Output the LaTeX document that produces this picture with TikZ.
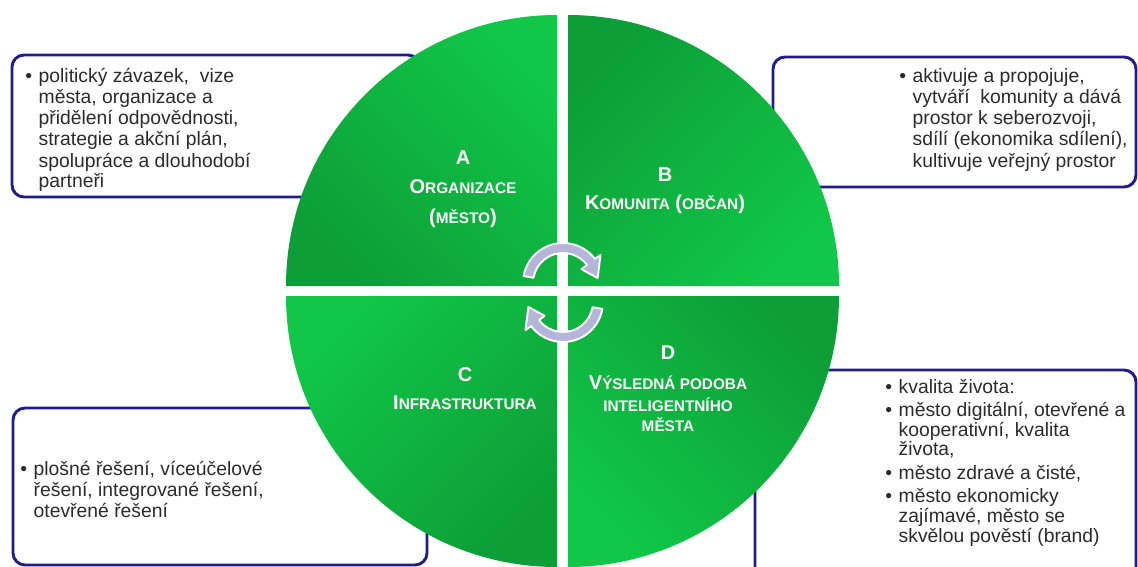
\documentclass[tikz,border=0pt]{standalone}
\usepackage{fontspec}
\setmainfont{Liberation Sans}
\usetikzlibrary{calc}

\definecolor{boxblue}{HTML}{1E1E8C}
\definecolor{textgray}{HTML}{2B2B2B}
\definecolor{greendark}{HTML}{0D9E38}
\definecolor{greenlight}{HTML}{10C747}
\definecolor{arrowlav}{HTML}{B5B5D9}

% first letter large, rest as small capitals
\newcommand{\capsc}[2]{{\fontsize{15}{18}\selectfont #1}{\fontsize{11.5}{18}\selectfont #2}}

\tikzset{
  infobox/.style={draw=boxblue, line width=2.2pt, rounded corners=9pt, fill=white},
  infotext/.style={font=\fontsize{14.5}{15.75}\selectfont, text=textgray, inner sep=0pt, anchor=base west},
  quadlabel/.style={font=\bfseries\fontsize{15}{18}\selectfont, text=white, inner sep=0pt, anchor=base},
  cyclearrow/.style={fill=arrowlav, draw=white, line width=1.4pt, line join=round}
}

\begin{document}
\begin{tikzpicture}[x=0.75pt, y=-0.75pt]
    \useasboundingbox (0,0) rectangle (1138,567);
    % boxes behind the circle
    \begin{scope}
        \clip (0,0) rectangle (1138,567);
        \draw[infobox] (12,55) rectangle (420,197);
        \draw[infobox] (773,57) rectangle (1136,187);
        \draw[infobox] (13,408) rectangle (427,565);
        \draw[infobox] (755,370) rectangle (1136,580);
    \end{scope}
    \node[infotext] (textA) at (25,83) {\begin{tabular}[t]{@{}l@{\hspace{5pt}}l@{}}
        \textbullet & politický závazek,\ \ vize\\
        & města, organizace a\\
        & přidělení odpovědnosti,\\
        & strategie a akční plán,\\
        & spolupráce a dlouhodobí\\
        & partneři
    \end{tabular}};
    \node[infotext] (textB) at (899,83) {\begin{tabular}[t]{@{}l@{\hspace{5pt}}l@{}}
        \textbullet & aktivuje\ a propojuje,\\
        & vytváří\ \ komunity a dává\\
        & prostor k seberozvoji,\\
        & sdílí\ (ekonomika sdílení),\\
        & kultivuje\ veřejný\ prostor
    \end{tabular}};
    \node[infotext] (textC) at (20,475) {\begin{tabular}[t]{@{}l@{\hspace{5pt}}l@{}}
        \textbullet & plošné řešení, víceúčelové\\
        & řešení, integrované řešení,\\
        & otevřené řešení
    \end{tabular}};
    \node[infotext, font=\fontsize{14.5}{14.25}\selectfont] (textD) at (885,393) {\begin{tabular}[t]{@{}l@{\hspace{5pt}}l@{}}
        \textbullet & kvalita života:\\[2.5pt]
        \textbullet & město digitální, otevřené a\\
        & kooperativní,\ kvalita\\
        & života,\\[2.5pt]
        \textbullet & město zdravé a čisté,\\[2.5pt]
        \textbullet & město ekonomicky\\
        & zajímavé,\ město se\\
        & skvělou pověstí (brand)
    \end{tabular}};
    % quadrants
    \shade[top color=greenlight, bottom color=greendark, shading angle=-45]
        (557,286) -- (286,286) arc[start angle=180, end angle=270, radius=271] -- cycle;
    \shade[top color=greenlight, bottom color=greendark, shading angle=-135]
        (568,286) -- (568,15) arc[start angle=270, end angle=360, radius=271] -- cycle;
    \shade[top color=greenlight, bottom color=greendark, shading angle=45]
        (557,296) -- (557,567) arc[start angle=90, end angle=180, radius=271] -- cycle;
    \shade[top color=greenlight, bottom color=greendark, shading angle=135]
        (568,296) -- (839,296) arc[start angle=0, end angle=90, radius=271] -- cycle;
    % quadrant labels
    \node[quadlabel] (letA) at (463,164) {A};
    \node[quadlabel] (nameA) at (463,193) {\capsc{O}{RGANIZACE}};
    \node[quadlabel] (cityA) at (463,223) {\capsc{(}{MĚSTO}\capsc{)}{}};
    \node[quadlabel] (letB) at (665,181) {B};
    \node[quadlabel] (nameB) at (665,209) {\capsc{K}{OMUNITA} \capsc{(}{OBČAN}\capsc{)}{}};
    \node[quadlabel] (letC) at (465,381) {C};
    \node[quadlabel] (nameC) at (465,409) {\capsc{I}{NFRASTRUKTURA}};
    \node[quadlabel] (letD) at (668,359) {D};
    \node[quadlabel] (nameD) at (668,389) {\capsc{V}{ÝSLEDNÁ PODOBA}};
    \node[quadlabel] (nameD2) at (668,411) {\capsc{}{INTELIGENTNÍHO}};
    \node[quadlabel] (nameD3) at (668,431) {\capsc{}{MĚSTA}};
    % cycle arrows
    \coordinate (uc) at (563,283);
    \coordinate (lc) at (563,302);
    \draw[cyclearrow] ([shift={(190:40)}]uc) arc[start angle=190, end angle=323, radius=40]
        -- ([shift={(323:47)}]uc) -- ([shift={(352:35)}]uc) -- ([shift={(323:23)}]uc)
        -- ([shift={(323:30)}]uc) arc[start angle=323, end angle=190, radius=30] -- cycle;
    \draw[cyclearrow] ([shift={(10:40)}]lc) arc[start angle=10, end angle=143, radius=40]
        -- ([shift={(143:47)}]lc) -- ([shift={(172:35)}]lc) -- ([shift={(143:23)}]lc)
        -- ([shift={(143:30)}]lc) arc[start angle=143, end angle=10, radius=30] -- cycle;
\end{tikzpicture}
\end{document}
